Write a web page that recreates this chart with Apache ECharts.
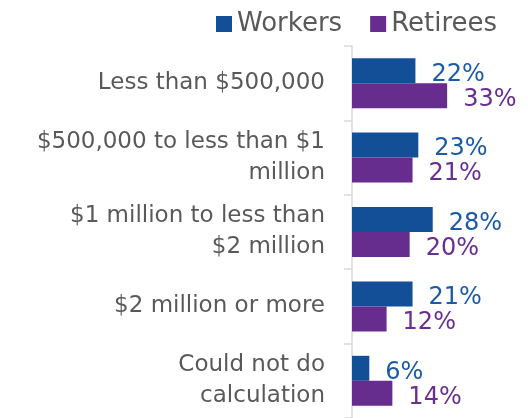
<!DOCTYPE html>
<html><head><meta charset="utf-8">
<script src="https://cdn.jsdelivr.net/npm/echarts@6/dist/echarts.min.js"></script>
<style>html,body{margin:0;padding:0;background:#fff}#c{width:528px;height:418px}</style>
</head><body><div id="c"></div>
<script>
const categories = ["Less than $500,000", "$500,000 to less than $1\nmillion", "$1 million to less than\n$2 million", "$2 million or more", "Could not do\ncalculation"];
const workers = [22, 23, 28, 21, 6];
const retirees = [33, 21, 20, 12, 14];
const seriesNames = ["Workers", "Retirees"];
const FONT = "DejaVu Sans";
const chart = echarts.init(document.getElementById('c'), null, {renderer:'canvas'});
function lbl(color){
  return {show:true, position:'right', distance:16, offset:[0,4], formatter:'{c}%', color:color, fontFamily:FONT, fontSize:24};
}
chart.setOption({
  animation:false,
  textStyle:{fontFamily:FONT},
  legend:{left:211, top:6, itemWidth:16, itemHeight:16, itemGap:28, icon:'rect',
    textStyle:{fontFamily:FONT, fontSize:26, color:'#595959', padding:[0,0,0,0]},
    data:seriesNames},
  grid:{left:352, right:3, top:46, height:378, containLabel:false},
  xAxis:{type:'value', min:0, max:60, show:false},
  yAxis:{type:'category', data:categories, inverse:true,
    axisLine:{show:true, lineStyle:{color:'#D9D9D9', width:1.5}},
    axisTick:{show:true, length:8, lineStyle:{color:'#D9D9D9', width:1.5}},
    axisLabel:{margin:27, fontFamily:FONT, fontSize:23, color:'#595959', lineHeight:31, align:'right'}},
  series:[
    {name:seriesNames[0], type:'bar', data:workers, barWidth:25, barGap:'0%',
      itemStyle:{color:'#124F97'}, label:lbl('#1B5AA6')},
    {name:seriesNames[1], type:'bar', data:retirees, barWidth:25, barGap:'0%',
      itemStyle:{color:'#662D8F'}, label:lbl('#6A2D91')}
  ]
});
</script></body></html>
